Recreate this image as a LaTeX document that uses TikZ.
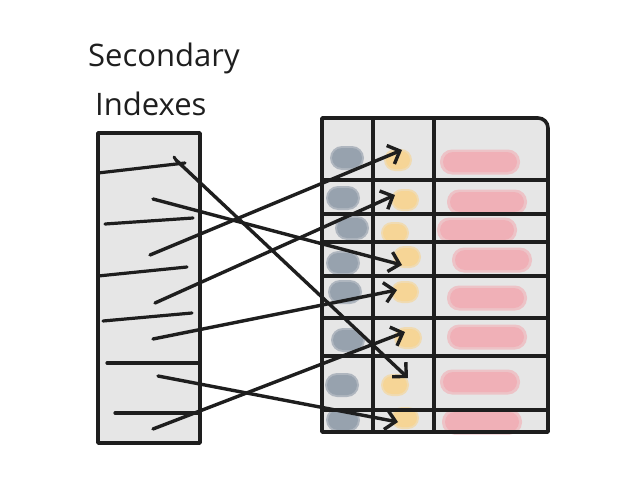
\documentclass[tikz,border=0pt]{standalone}
\usepackage{fontspec}
\setmainfont{Open Sans}
\usetikzlibrary{arrows.meta}
\definecolor{boxgray}{HTML}{E6E6E6}
\definecolor{ink}{HTML}{1E1E1E}
\definecolor{blobgray}{HTML}{97A2AE}
\definecolor{blobyellow}{HTML}{F6D596}
\definecolor{blobpink}{HTML}{F0B0B7}
\begin{document}
\begin{tikzpicture}[x=1pt,y=-1pt,
  frame/.style={draw=ink,line width=3.6pt,fill=boxgray,line join=round},
  grid/.style={draw=ink,line width=3.2pt,line cap=round},
  entry/.style={draw=ink,line width=3.2pt,line cap=round},
  link/.style={draw=ink,line width=3.4pt,line cap=round,-{Straight Barb[length=10pt,width=20pt,line width=3.4pt]}},
  blob/.style={inner sep=0pt,draw=none},
  gblob/.style={blob,fill=blobgray,rounded corners=10pt,minimum width=30pt,minimum height=20pt},
  ghalo/.style={blob,fill=blobgray!70!boxgray,rounded corners=12pt,minimum width=34pt,minimum height=24pt},
  yblob/.style={blob,fill=blobyellow,rounded corners=9pt,minimum width=24pt,minimum height=18pt},
  yhalo/.style={blob,fill=blobyellow!65!boxgray,rounded corners=11pt,minimum width=28pt,minimum height=22pt},
  pblob/.style={blob,fill=blobpink,rounded corners=10pt,minimum width=74pt,minimum height=20pt},
  phalo/.style={blob,fill=blobpink!65!boxgray,rounded corners=12pt,minimum width=80pt,minimum height=25pt},
  title/.style={font=\fontsize{31}{36}\selectfont,text=ink,inner sep=0pt,anchor=base west}
]
\useasboundingbox (0,0) rectangle (638,479);

% title
\node[title] (t1) at (88,66) {Secondary};
\node[title] (t2) at (95,115) {Indexes};

% left box (secondary index)
\path[frame] (98,133) rectangle (200,443);
\draw[ink,line width=4.5pt] (200,133) -- (200,443);
\draw[entry] (98,173) -- (185,163);
\draw[entry] (105,224) -- (193,218);
\draw[entry] (98,276) -- (187,267);
\draw[entry] (103,321) -- (192,313);
\draw[entry] (107,363) -- (198,363);
\draw[entry] (115,413) -- (198,413);

% right box (table)
\path[fill=boxgray] (322,118) -- (538,118) to[out=0,in=90] (548,128) -- (548,432) -- (322,432) -- cycle;

% blobs
\foreach \i/\gx/\gy/\yx/\yy/\px/\py in {
  1/347/158/398/160/480/162,
  2/343/198/405/200/487/202,
  3/352/228/395/233/477/230,
  4/343/263/407/257/492/260,
  5/345/292/405/292/487/298,
  6/348/340/408/338/487/337,
  7/342/385/395/385/480/382,
  8/343/420/405/418/482/422}{
  \node[ghalo] (gh\i) at (\gx,\gy) {};
  \node[gblob] (g\i) at (\gx,\gy) {};
  \node[yhalo] (yh\i) at (\yx,\yy) {};
  \node[yblob] (y\i) at (\yx,\yy) {};
  \node[phalo] (ph\i) at (\px,\py) {};
  \node[pblob] (p\i) at (\px,\py) {};
}

% grid lines
\draw[grid] (373,118) -- (373,432);
\draw[grid] (434,118) -- (434,432);
\foreach \yy in {180,214,242,276,318,356,410}
  \draw[grid] (322,\yy) -- (548,\yy);
\draw[ink,line width=3.6pt,line join=round] (322,118) -- (538,118) to[out=0,in=90] (548,128) -- (548,432) -- (322,432) -- cycle;

% connectors
\coordinate (sa) at (176,160); \coordinate (ea) at (408,378);
\coordinate (sb) at (153,199); \coordinate (eb) at (402,265);
\coordinate (sc) at (150,255); \coordinate (ec) at (402,150);
\coordinate (sd) at (155,303); \coordinate (ed) at (395,195);
\coordinate (se) at (153,339); \coordinate (ee) at (397,290);
\coordinate (sf) at (158,376); \coordinate (ef) at (398,422);
\coordinate (sg) at (153,429); \coordinate (eg) at (405,332);
\draw[line width=3pt,ink,line cap=round] (174,157) -- (sa);
\draw[link] (sa) -- (ea);
\draw[link] (sb) -- (eb);
\draw[link] (sc) -- (ec);
\draw[link] (sd) -- (ed);
\draw[link] (se) -- (ee);
\draw[link] (sf) -- (ef);
\draw[link] (sg) -- (eg);
\end{tikzpicture}
\end{document}
